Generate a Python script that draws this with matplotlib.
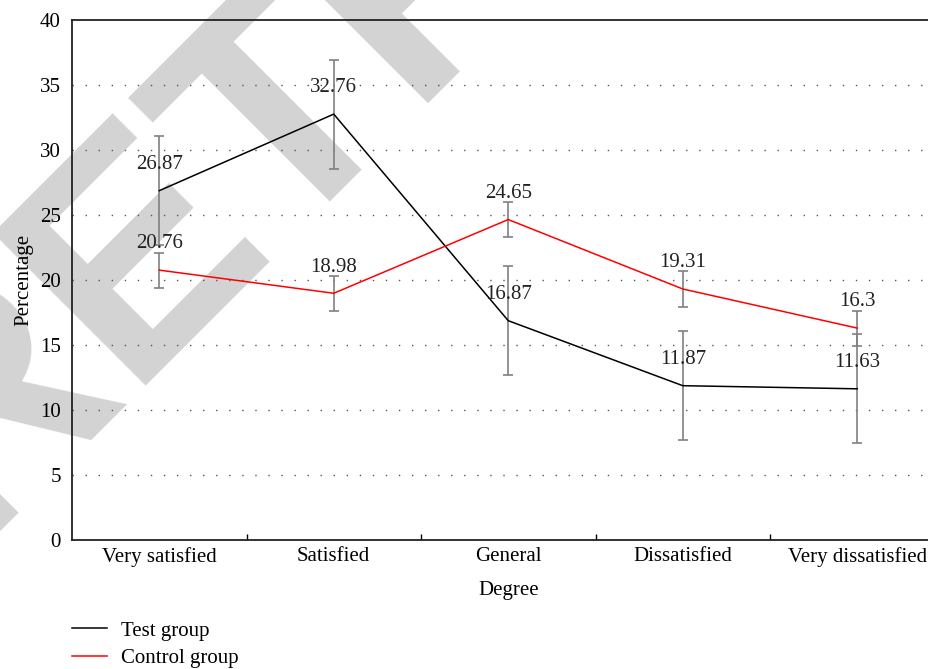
import numpy as np
import matplotlib.pyplot as plt
from matplotlib.ticker import FixedLocator

plt.rcParams['font.family'] = ['Liberation Serif', 'DejaVu Serif']
plt.rcParams['font.size'] = 15

degrees = ["Very satisfied", "Satisfied", "General", "Dissatisfied", "Very dissatisfied"]
test_group = [26.87, 32.76, 16.87, 11.87, 11.63]
control_group = [20.76, 18.98, 24.65, 19.31, 16.3]
test_err = [4.2, 4.2, 4.2, 4.2, 4.2]
control_err = [1.35, 1.35, 1.35, 1.35, 1.35]

fig = plt.figure(figsize=(9.29, 6.69), dpi=100)
ax = fig.add_axes([72/929, 1-540/669, 872.5/929, 520/669])
ax.patch.set_alpha(0)

# watermark behind the plot
fig.text(-34/929, 1-545/669, "RETRACTED", rotation=45, rotation_mode='anchor',
         ha='left', va='baseline', fontsize=225, fontweight='bold',
         family='Liberation Sans', color='#d3d3d3', zorder=-5)

x = np.arange(len(degrees))
ax.errorbar(x, test_group, yerr=test_err, fmt='none', ecolor='#808080',
            elinewidth=1.2, capsize=3.8, capthick=1.2, zorder=2)
ax.errorbar(x, control_group, yerr=control_err, fmt='none', ecolor='#808080',
            elinewidth=1.2, capsize=3.8, capthick=1.2, zorder=2)
ax.plot(x, test_group, color='black', lw=1.1, label='Test group', zorder=3)
ax.plot(x, control_group, color='#ff0000', lw=1.1, label='Control group', zorder=3)

for xi, v in zip(x, test_group):
    ax.annotate(f"{v:g}", (xi, v), xytext=(0, 12), textcoords='offset points',
                ha='center', va='bottom', color='#222222')
for xi, v in zip(x, control_group):
    ax.annotate(f"{v:g}", (xi, v), xytext=(0, 12), textcoords='offset points',
                ha='center', va='bottom', color='#222222')

ax.set_xlim(-0.5, 4.5)
ax.set_ylim(0, 40)
ax.set_yticks(np.arange(0, 41, 5))
ax.set_xticks(x)
ax.set_xticklabels(degrees)
ax.xaxis.set_minor_locator(FixedLocator(x[:-1] + 0.5))
ax.tick_params(axis='x', which='major', length=0, pad=5)
ax.tick_params(axis='x', which='minor', direction='in', length=4, width=1)
ax.tick_params(axis='y', length=0, pad=8)

for y in np.arange(5, 40, 5):
    ax.axhline(y, color='#555555', lw=1, linestyle=(0, (1, 8.4)), zorder=1)

for s in ['left', 'bottom', 'top']:
    ax.spines[s].set_linewidth(1.3)
    ax.spines[s].set_color('#222222')
ax.spines['right'].set_visible(False)

ax.set_xlabel("Degree", labelpad=10)
ax.set_ylabel("Percentage", labelpad=5)

fig.legend(loc='upper left', bbox_to_anchor=(72/929, 1-621/669), frameon=False,
           borderpad=0, borderaxespad=0, handlelength=1.7, handletextpad=0.65,
           labelspacing=0.4)

fig.savefig("out.png", dpi=100)
